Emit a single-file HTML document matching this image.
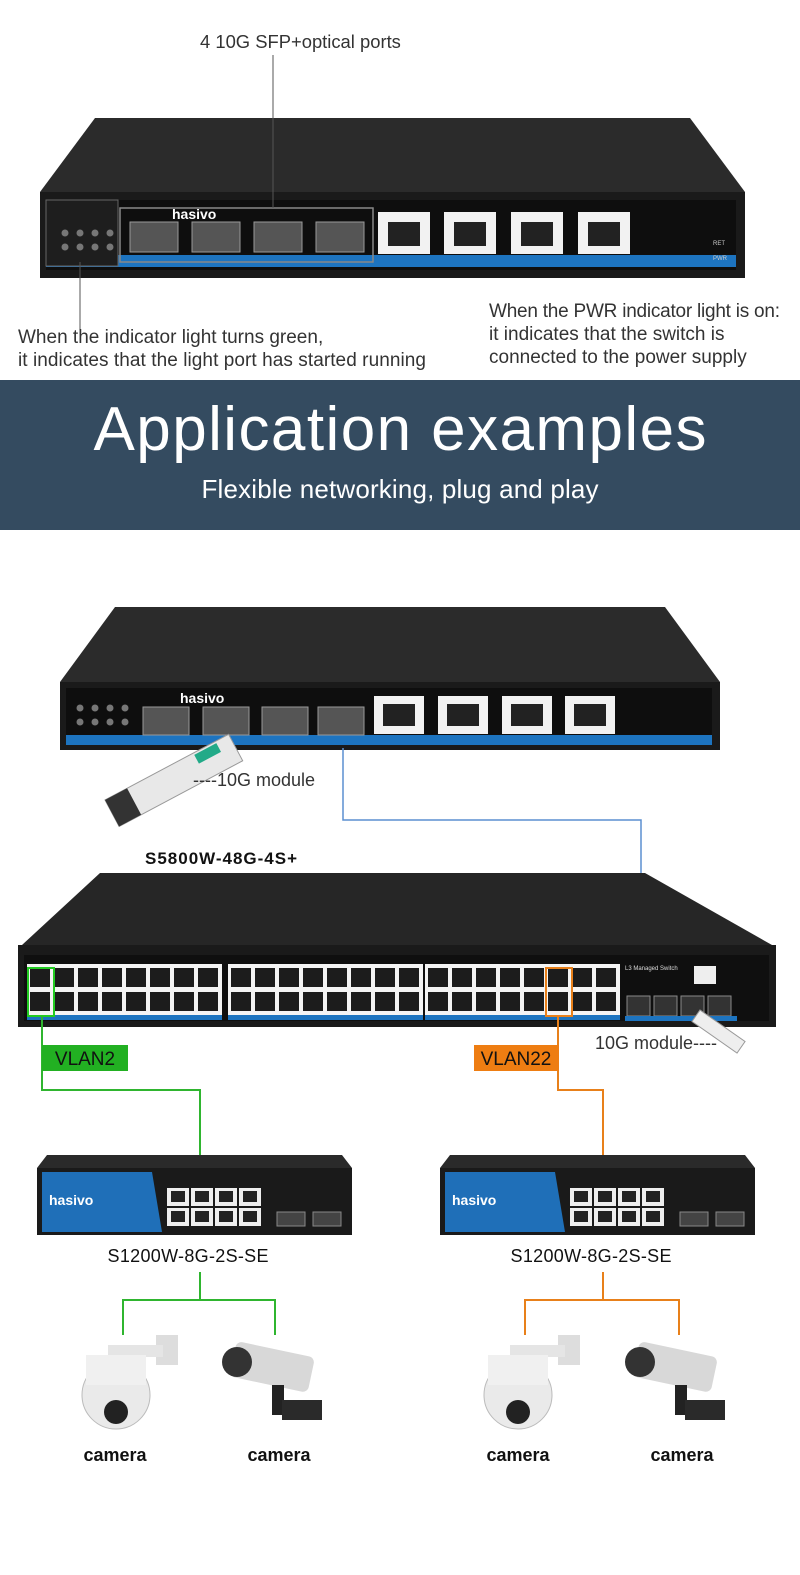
<!DOCTYPE html>
<html><head><meta charset="utf-8"><style>
body{margin:0;background:#fff;width:800px;height:1575px;overflow:hidden;font-family:"Liberation Sans",sans-serif}
svg{display:block}
</style></head><body>
<svg id="s" width="800" height="1575" viewBox="0 0 800 1575" xmlns="http://www.w3.org/2000/svg" font-family="Liberation Sans, sans-serif">
<rect width="800" height="1575" fill="#fff"/>
<polygon points="95,118 690,118 745,192 40,192" fill="#2b2b2b"/>
<rect x="40" y="192" width="705" height="86" fill="#1a1a1a"/>
<rect x="46" y="200" width="690" height="70" fill="#0e0e0e"/>
<rect x="46" y="255" width="690" height="12" fill="#1d74c0"/>
<rect x="46" y="200" width="72" height="66" fill="#1e1e1e" stroke="#666" stroke-width="1"/>
<g id="leds"></g>
<text x="172" y="219" fill="#fff" font-size="14" font-weight="bold">hasivo</text>
<rect x="120" y="208" width="253" height="54" fill="none" stroke="#888" stroke-width="1.5"/>
<g id="sfp1"></g>
<g id="rj1"></g>
<text x="713" y="245" fill="#ccc" font-size="6">RET</text>
<text x="713" y="260" fill="#ccc" font-size="6">PWR</text>
<line x1="273" y1="55" x2="273" y2="208" stroke="#555" stroke-width="1"/>
<line x1="80" y1="262" x2="80" y2="330" stroke="#555" stroke-width="1"/>
<text x="200" y="48" font-size="18.4" fill="#333">4 10G SFP+optical ports</text>
<text x="18" y="343" font-size="19" fill="#333">When the indicator light turns green,</text>
<text x="18" y="366" font-size="19" fill="#333" textLength="408">it indicates that the light port has started running</text>
<text x="489" y="317" font-size="19" fill="#333" textLength="291">When the PWR indicator light is on:</text>
<text x="489" y="340" font-size="19" fill="#333">it indicates that the switch is</text>
<text x="489" y="363" font-size="19" fill="#333">connected to the power supply</text>
<rect x="0" y="380" width="800" height="150" fill="#344b60"/>
<text x="400" y="450" font-size="62" fill="#fff" text-anchor="middle" textLength="613">Application examples</text>
<text x="400" y="498" font-size="26" fill="#fff" text-anchor="middle" textLength="397">Flexible networking, plug and play</text>
<polygon points="115,607 665,607 720,682 60,682" fill="#2b2b2b"/>
<rect x="60" y="682" width="660" height="68" fill="#1a1a1a"/>
<rect x="66" y="688" width="646" height="56" fill="#0e0e0e"/>
<rect x="66" y="735" width="646" height="10" fill="#1d74c0"/>
<text x="180" y="703" fill="#fff" font-size="14" font-weight="bold">hasivo</text>
<g id="sfp2"></g><g id="rj2"></g>
<g transform="translate(105,800) rotate(-28)">
<rect x="0" y="0" width="140" height="30" fill="#e8e8e8" stroke="#999"/>
<rect x="0" y="0" width="25" height="30" fill="#333"/>
<rect x="100" y="2" width="25" height="10" fill="#2a8"/>
</g>
<text x="193" y="786" font-size="18" fill="#333">----10G module</text>
<polyline points="343,748 343,820 641,820 641,1012" fill="none" stroke="#5b8fd0" stroke-width="1.5"/>
<text x="145" y="864" font-size="17" font-weight="bold" fill="#111" textLength="152">S5800W-48G-4S+</text>
<polygon points="100,873 645,873 772,945 22,945" fill="#262626"/>
<rect x="18" y="945" width="758" height="82" fill="#1a1a1a"/>
<rect x="24" y="955" width="745" height="66" fill="#0f0f0f"/>
<g id="big"></g>
<text x="625" y="970" fill="#ddd" font-size="6">L3 Managed Switch</text>
<rect x="694" y="966" width="22" height="18" fill="#eee"/>
<rect x="28" y="968" width="26" height="48" fill="none" stroke="#2c2" stroke-width="2"/>
<rect x="546" y="968" width="26" height="48" fill="none" stroke="#e8801a" stroke-width="2"/>
<g transform="translate(700,1010) rotate(35)"><rect x="0" y="0" width="55" height="14" fill="#eee" stroke="#999"/></g>
<text x="595" y="1049" font-size="18" fill="#333">10G module----</text>
<polyline points="42,1016 42,1090 200,1090 200,1158" fill="none" stroke="#2fb52f" stroke-width="2"/>
<polyline points="558,1016 558,1090 603,1090 603,1158" fill="none" stroke="#e8801a" stroke-width="2"/>
<rect x="42" y="1045" width="86" height="26" fill="#22b022"/>
<text x="85" y="1065" font-size="19" fill="#111" text-anchor="middle">VLAN2</text>
<rect x="474" y="1045" width="85" height="26" fill="#ee7d12"/>
<text x="516" y="1065" font-size="19" fill="#111" text-anchor="middle">VLAN22</text>
<g id="small"></g>
<text x="188" y="1262" font-size="18" fill="#111" text-anchor="middle" textLength="161">S1200W-8G-2S-SE</text>
<text x="591" y="1262" font-size="18" fill="#111" text-anchor="middle" textLength="161">S1200W-8G-2S-SE</text>
<polyline points="200,1272 200,1300" stroke="#2fb52f" stroke-width="2" fill="none"/>
<polyline points="123,1335 123,1300 275,1300 275,1335" stroke="#2fb52f" stroke-width="2" fill="none"/>
<polyline points="603,1272 603,1300" stroke="#e8801a" stroke-width="2" fill="none"/>
<polyline points="525,1335 525,1300 679,1300 679,1335" stroke="#e8801a" stroke-width="2" fill="none"/>
<g id="cams"></g>
<text x="115" y="1461" font-size="18" font-weight="bold" fill="#111" text-anchor="middle">camera</text>
<text x="279" y="1461" font-size="18" font-weight="bold" fill="#111" text-anchor="middle">camera</text>
<text x="518" y="1461" font-size="18" font-weight="bold" fill="#111" text-anchor="middle">camera</text>
<text x="682" y="1461" font-size="18" font-weight="bold" fill="#111" text-anchor="middle">camera</text>
</svg>
<script>
var NS="http://www.w3.org/2000/svg";
function add(g,tag,a){var e=document.createElementNS(NS,tag);for(var k in a)e.setAttribute(k,a[k]);document.getElementById(g).appendChild(e);return e;}
for(var i=0;i<4;i++)for(var r=0;r<2;r++)add("leds","circle",{cx:65+i*15,cy:233+r*14,r:3.5,fill:"#777"});
[130,192,254,316].forEach(function(x){add("sfp1","rect",{x:x,y:222,width:48,height:30,fill:"#555",stroke:"#999"});});
[378,444,511,578].forEach(function(x){add("rj1","rect",{x:x,y:212,width:52,height:42,fill:"#f2f2f2"});add("rj1","rect",{x:x+10,y:222,width:32,height:24,fill:"#222"});});
for(var i=0;i<4;i++)for(var r=0;r<2;r++)add("sfp2","circle",{cx:80+i*15,cy:708+r*14,r:3.5,fill:"#777"});
[143,203,262,318].forEach(function(x){add("sfp2","rect",{x:x,y:707,width:46,height:28,fill:"#555",stroke:"#999"});});
[374,438,502,565].forEach(function(x){add("rj2","rect",{x:x,y:696,width:50,height:38,fill:"#f2f2f2"});add("rj2","rect",{x:x+9,y:704,width:32,height:22,fill:"#222"});});
[27,228,425].forEach(function(bx){
 add("big","rect",{x:bx,y:964,width:195,height:52,fill:"#f4f4f4"});
 add("big","rect",{x:bx,y:1015,width:195,height:5,fill:"#1d74c0"});
 for(var i=0;i<8;i++)for(var r=0;r<2;r++)add("big","rect",{x:bx+3+i*24,y:968+r*24,width:20,height:19,fill:"#1c1c1c"});
});
for(var i=0;i<4;i++)add("big","rect",{x:627+i*27,y:996,width:23,height:20,fill:"#333",stroke:"#888"});
add("big","rect",{x:625,y:1016,width:112,height:5,fill:"#1d74c0"});
[37,440].forEach(function(sx){
 add("small","polygon",{points:(sx+10)+",1155 "+(sx+305)+",1155 "+(sx+315)+",1168 "+sx+",1168",fill:"#2a2a2a"});
 add("small","rect",{x:sx,y:1168,width:315,height:67,fill:"#1a1a1a"});
 add("small","polygon",{points:(sx+5)+",1172 "+(sx+115)+",1172 "+(sx+125)+",1232 "+(sx+5)+",1232",fill:"#1f6fb8"});
 var t=add("small","text",{x:sx+12,y:1205,fill:"#fff","font-size":"14","font-weight":"bold"});t.textContent="hasivo";
 for(var i=0;i<4;i++)for(var r=0;r<2;r++){add("small","rect",{x:sx+130+i*24,y:1188+r*20,width:22,height:18,fill:"#eee"});add("small","rect",{x:sx+134+i*24,y:1191+r*20,width:14,height:11,fill:"#222"});}
 add("small","rect",{x:sx+240,y:1212,width:28,height:14,fill:"#444",stroke:"#888"});
 add("small","rect",{x:sx+276,y:1212,width:28,height:14,fill:"#444",stroke:"#888"});
});
function dome(x){add("cams","rect",{x:x+40,y:1335,width:22,height:30,fill:"#ddd"});add("cams","rect",{x:x-8,y:1345,width:55,height:12,fill:"#e5e5e5"});
 add("cams","circle",{cx:x,cy:1395,r:34,fill:"#eaeaea",stroke:"#bbb"});add("cams","rect",{x:x-30,y:1355,width:60,height:30,fill:"#f0f0f0"});add("cams","circle",{cx:x,cy:1412,r:12,fill:"#222"});}
function bullet(x){add("cams","rect",{x:x-45,y:1350,width:80,height:36,fill:"#d8d8d8",rx:6,transform:"rotate(12 "+x+" 1368)"});add("cams","circle",{cx:x-40,cy:1362,r:15,fill:"#333"});add("cams","rect",{x:x-5,y:1385,width:12,height:30,fill:"#222"});add("cams","rect",{x:x+5,y:1400,width:40,height:20,fill:"#2a2a2a"});}
dome(116);bullet(277);dome(518);bullet(680);
</script>
</body></html>
